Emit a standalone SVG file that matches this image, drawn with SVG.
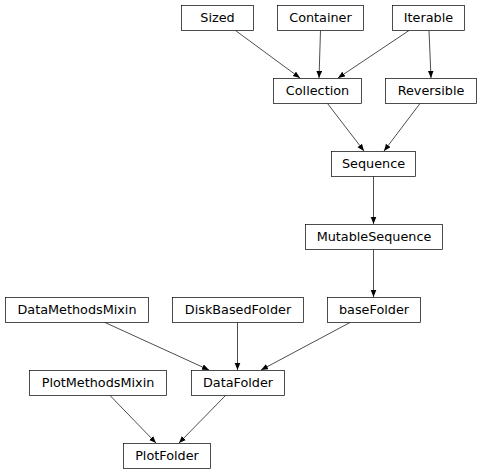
<svg xmlns="http://www.w3.org/2000/svg" width="482" height="476" viewBox="0 0 482 476">
<style>
.n rect{fill:#fff;stroke:#000;stroke-width:0.7}
.n text{font-family:"DejaVu Sans",sans-serif;font-size:12.8px;text-anchor:middle;fill:#000}
.e line{stroke:#000;stroke-width:0.7;marker-end:url(#a)}
</style>
<defs>
<marker id="a" markerWidth="8" markerHeight="7" refX="7" refY="3" orient="auto" markerUnits="userSpaceOnUse"><path d="M0,0.2 L7,3 L0,5.8 z" fill="#000"/></marker>
</defs>
<rect width="482" height="476" fill="#fff"/>
<g id="edges" class="e">
<line x1="235.5" y1="30.5" x2="300" y2="78"/>
<line x1="320.5" y1="30.5" x2="319" y2="78"/>
<line x1="409" y1="30.5" x2="338" y2="78"/>
<line x1="429" y1="30.5" x2="431" y2="78"/>
<line x1="327.5" y1="103.5" x2="364" y2="151"/>
<line x1="420" y1="103.5" x2="384" y2="151"/>
<line x1="373.5" y1="176.5" x2="373.5" y2="224"/>
<line x1="373.5" y1="249.5" x2="373.5" y2="297"/>
<line x1="105" y1="322.5" x2="209" y2="370"/>
<line x1="237.5" y1="322.5" x2="237.5" y2="370"/>
<line x1="350" y1="322.5" x2="261" y2="370"/>
<line x1="110" y1="395.5" x2="156" y2="443"/>
<line x1="225.5" y1="395.5" x2="179" y2="443"/>
</g>
<g id="Sized" class="n"><rect x="181.5" y="5.5" width="72" height="25"/><text x="217.5" y="22.3">Sized</text></g>
<g id="Container" class="n"><rect x="277.5" y="5.5" width="86" height="25"/><text x="320.5" y="22.3">Container</text></g>
<g id="Iterable" class="n"><rect x="392.5" y="5.5" width="72" height="25"/><text x="428.5" y="22.3">Iterable</text></g>
<g id="Collection" class="n"><rect x="273.5" y="78.5" width="88" height="25"/><text x="317.5" y="95.3">Collection</text></g>
<g id="Reversible" class="n"><rect x="385.5" y="78.5" width="91" height="25"/><text x="431" y="95.3">Reversible</text></g>
<g id="Sequence" class="n"><rect x="331.5" y="151.5" width="84" height="25"/><text x="373.5" y="168.3">Sequence</text></g>
<g id="MutableSequence" class="n"><rect x="305.5" y="224.5" width="137" height="25"/><text x="374" y="241.3">MutableSequence</text></g>
<g id="DataMethodsMixin" class="n"><rect x="5.5" y="297.5" width="143" height="25"/><text x="77" y="314.3">DataMethodsMixin</text></g>
<g id="DiskBasedFolder" class="n"><rect x="172.5" y="297.5" width="131" height="25"/><text x="238" y="314.3">DiskBasedFolder</text></g>
<g id="baseFolder" class="n"><rect x="327.5" y="297.5" width="93" height="25"/><text x="374" y="314.3">baseFolder</text></g>
<g id="PlotMethodsMixin" class="n"><rect x="29.5" y="370.5" width="137" height="25"/><text x="98" y="387.3">PlotMethodsMixin</text></g>
<g id="DataFolder" class="n"><rect x="191.5" y="370.5" width="93" height="25"/><text x="238" y="387.3">DataFolder</text></g>
<g id="PlotFolder" class="n"><rect x="123.5" y="443.5" width="87" height="25"/><text x="167" y="460.3">PlotFolder</text></g>
</svg>
